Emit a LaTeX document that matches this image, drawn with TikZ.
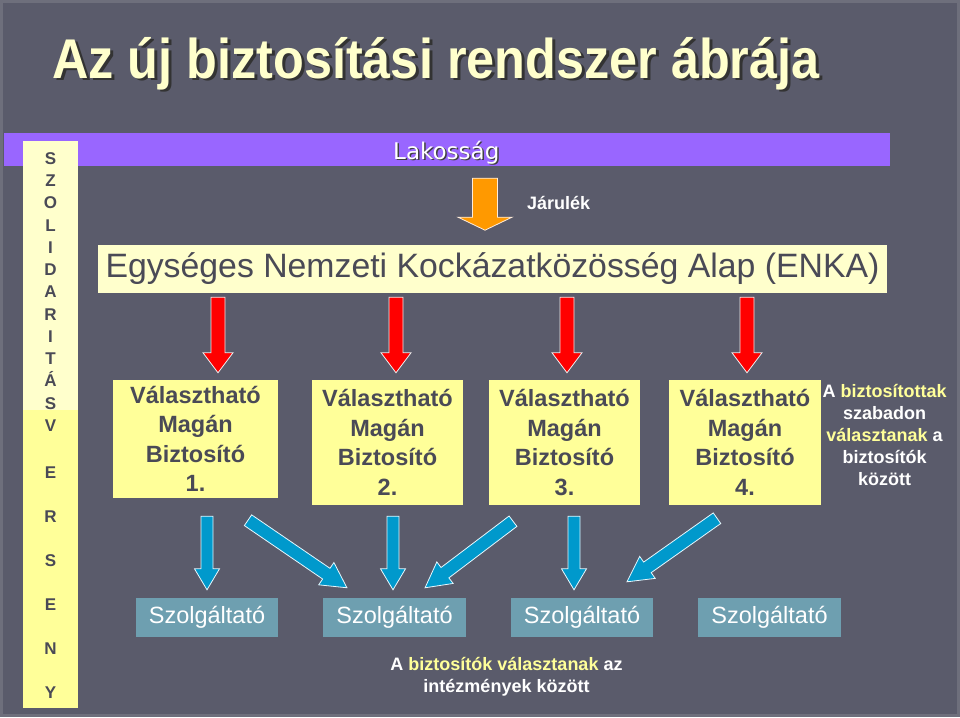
\documentclass[tikz,border=0pt]{standalone}
\usepackage{fontspec}
\setmainfont{Liberation Sans}
\newfontfamily\dejavu{DejaVu Sans}
\usetikzlibrary{calc}
\definecolor{bg}{HTML}{5A5B6B}
\definecolor{frame}{HTML}{6E6F7C}
\definecolor{lightyel}{HTML}{FFFFCC}
\definecolor{yel}{HTML}{FFFF99}
\definecolor{purp}{HTML}{9966FF}
\definecolor{txtgray}{HTML}{4A4A56}
\definecolor{servteal}{HTML}{6E9FB0}
\definecolor{arrblue}{HTML}{0099CC}
\definecolor{arrred}{HTML}{FF0000}
\definecolor{arrorange}{HTML}{FF9900}
\definecolor{hilite}{HTML}{FFFF99}
% block arrow: from, to, shaft half width, head half width, head length, style
\newcommand\blockarr[6]{%
  \path[#6] let \p1=(#1), \p2=(#2),
    \n1={atan2(\y2-\y1,\x2-\x1)}, \n2={veclen(\x2-\x1,\y2-\y1)} in
    [shift={(\p1)}, rotate=\n1]
    (0pt,-#3) -- ({\n2*1pt-#5},-#3) -- ({\n2*1pt-#5},-#4) -- ({\n2*1pt},0pt)
    -- ({\n2*1pt-#5},#4) -- ({\n2*1pt-#5},#3) -- (0pt,#3) -- cycle;}
\tikzset{
  insbox/.style={fill=yel, inner sep=0pt, align=center, text=txtgray,
    font=\fontsize{23.5}{29.5}\selectfont\bfseries},
  servbox/.style={fill=servteal, inner sep=0pt, minimum width=142pt, minimum height=39pt,
    text=white, font=\fontsize{23.5}{28}\selectfont},
  colletters/.style={align=center, text=txtgray, inner sep=0pt},
  redarr/.style={fill=arrred, draw=white!85!gray, line width=0.8pt},
  bluearr/.style={fill=arrblue, draw=white!90!cyan, line width=0.8pt},
  orangearr/.style={fill=arrorange, draw=white!85!orange, line width=0.8pt},
  note/.style={text=white, align=center, inner sep=0pt,
    font=\fontsize{18}{22}\selectfont\bfseries},
}
\begin{document}
\begin{tikzpicture}[x=1pt, y=-1pt]
\useasboundingbox (0,0) rectangle (960,717);
\fill[bg] (0,0) rectangle (960,717);
\draw[frame, line width=3pt] (1.5,1.5) rectangle (958.5,715.5);

% title (with shadow)
\node[anchor=base west, text=black!80, inner sep=0pt] (titleshadow) at (55,81)
  {\fontsize{56}{60}\selectfont\bfseries\scalebox{0.9}[1]{Az új biztosítási rendszer ábrája}};
\node[anchor=base west, text=lightyel, inner sep=0pt] (title) at (52,78)
  {\fontsize{56}{60}\selectfont\bfseries\scalebox{0.9}[1]{Az új biztosítási rendszer ábrája}};

% purple bar
\node[fill=purp, minimum width=886pt, minimum height=33pt, inner sep=0pt] (lakbar) at (447,149.5) {};
\node[anchor=base west, inner sep=0pt, text=black!75] (lakshadow) at (394.5,160.5)
  {\dejavu\fontsize{23}{26}\selectfont Lakosság};
\node[anchor=base west, inner sep=0pt, text=white] (lak) at (393,159)
  {\dejavu\fontsize{23}{26}\selectfont Lakosság};

% left column
\node[fill=lightyel, minimum width=55pt, minimum height=269pt, inner sep=0pt] (colup) at (50.5,275.5) {};
\node[fill=yel, minimum width=55pt, minimum height=298pt, inner sep=0pt] (collow) at (50.5,559) {};
\node[colletters, font=\fontsize{17}{22.25}\selectfont\bfseries] (colt1) at (50.5,292)
  {S\\Z\\O\\L\\I\\D\\A\\R\\I\\T\\Á\\S\\V};
\node[colletters, font=\fontsize{17}{44}\selectfont\bfseries] (colt2) at (50.5,583)
  {E\\R\\S\\E\\N\\Y};

% ENKA
\node[fill=lightyel, minimum width=789pt, minimum height=48pt, inner sep=0pt,
  text=txtgray, font=\fontsize{33.8}{36}\selectfont] (enka) at (492.5,269)
  {Egységes Nemzeti Kockázatközösség Alap (ENKA)};

% Járulék
\blockarr{$(lakbar.south)+(38,12)$}{$(lakbar.south -| enka.north)+(-7.5,64)$}{12.5pt}{27pt}{13pt}{orangearr}
\node[anchor=west, text=white, inner sep=0pt, font=\fontsize{18}{22}\selectfont\bfseries] (jarulek) at (527,203) {Járulék};

% insurer boxes
\node[insbox, minimum width=165pt, minimum height=118pt] (b1) at (195.5,439)
  {Választható\\Magán\\Biztosító\\1.};
\node[insbox, minimum width=151pt, minimum height=125pt] (b2) at (387.5,442.5)
  {Választható\\Magán\\Biztosító\\2.};
\node[insbox, minimum width=151pt, minimum height=125pt] (b3) at (564.5,442.5)
  {Választható\\Magán\\Biztosító\\3.};
\node[insbox, minimum width=152pt, minimum height=125pt] (b4) at (745,442.5)
  {Választható\\Magán\\Biztosító\\4.};

% red arrows
\coordinate (r1) at ($(b1.north)+(22.5,-7)$);
\coordinate (r2) at ($(b2.north)+(8.5,-7)$);
\coordinate (r3) at ($(b3.north)+(2.5,-7)$);
\coordinate (r4) at ($(b4.north)+(2,-7)$);
\foreach \r in {r1,r2,r3,r4}{
  \blockarr{$(\r |- enka.south)+(0,4)$}{\r}{7pt}{15pt}{20pt}{redarr}
}

% right note
\node[note] (note1) at (884.5,435)
  {A \textcolor{hilite}{biztosítottak}\\szabadon\\\textcolor{hilite}{választanak} a\\biztosítók\\között};

% service providers
\node[servbox] (s1) at (207,617.5) {Szolgáltató};
\node[servbox, minimum width=143pt] (s2) at (394.5,617.5) {Szolgáltató};
\node[servbox] (s3) at (582,617.5) {Szolgáltató};
\node[servbox, minimum width=143pt] (s4) at (769.5,617.5) {Szolgáltató};

% blue arrows
\blockarr{$(s1.north |- b1.south)+(0,18)$}{$(s1.north)+(0,-8)$}{6pt}{12.5pt}{21pt}{bluearr}
\blockarr{$(b1.south)+(52.5,22)$}{$(s2.north)+(-47.5,-10)$}{6.5pt}{13.5pt}{25pt}{bluearr}
\blockarr{$(s2.north |- b2.south)+(-1.5,11)$}{$(s2.north)+(-1.5,-8)$}{6pt}{12.5pt}{21pt}{bluearr}
\blockarr{$(b3.south)+(-51.5,16)$}{$(s2.north)+(30.5,-10)$}{6.5pt}{13.5pt}{25pt}{bluearr}
\blockarr{$(s3.north |- b3.south)+(-8,11)$}{$(s3.north)+(-8,-8)$}{6pt}{12.5pt}{21pt}{bluearr}
\blockarr{$(b4.south)+(-28,13)$}{$(s3.north)+(45,-16)$}{6.5pt}{13.5pt}{25pt}{bluearr}

% bottom note
\node[note] (note2) at (506.5,677)
  {A \textcolor{hilite}{biztosítók választanak} az\\intézmények között};
\end{tikzpicture}
\end{document}
